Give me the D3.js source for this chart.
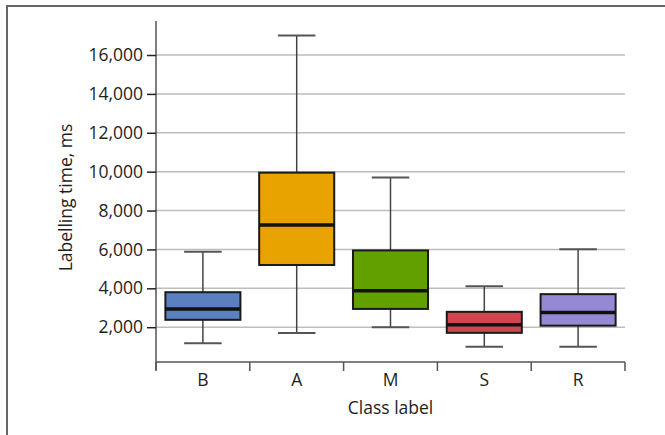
<!DOCTYPE html>
<html><head><meta charset="utf-8">
<script src="https://cdn.jsdelivr.net/npm/d3@7"></script>
<style>body{margin:0;background:#fff}svg{display:block}text{font-family:"Open Sans",sans-serif;fill:#1e1e1e}</style>
</head><body><svg id="c" width="665" height="435"></svg>
<script>
const categories = ["B","A","M","S","R"];
const whiskerLow  = [1180, 1700, 2000, 1000, 1000];
const q1          = [2380, 5200, 2940, 1710, 2080];
const medians     = [2940, 7260, 3870, 2120, 2750];
const q3          = [3800, 9950, 5950, 2790, 3700];
const whiskerHigh = [5880, 17000, 9700, 4100, 6010];
const colors      = ["#5a80c0","#e8a300","#62a000","#d0464f","#9589d6"];
const yTicks      = [2000,4000,6000,8000,10000,12000,14000,16000];

const svg = d3.select("#c");
svg.append("rect").attr("x",7).attr("y",6).attr("width",700).attr("height",500)
  .attr("fill","none").attr("stroke","#666").attr("stroke-width",2);

const L=156, R=625, T=21, B=362;
const FS = 17.5;
const x = d3.scaleBand().domain(categories).range([L,R]).padding(0);
const y = d3.scaleLinear().domain([210, 17750]).range([B,T]);

// grid
svg.append("g").selectAll("line").data(yTicks).join("line")
  .attr("x1",L).attr("x2",R).attr("y1",d=>y(d)).attr("y2",d=>y(d))
  .attr("stroke","#bdbdbd").attr("stroke-width",1.5);

// y axis
const ya = svg.append("g").attr("transform",`translate(${L},0)`)
  .call(d3.axisLeft(y).tickValues(yTicks).tickFormat(d3.format(",")).tickSize(9).tickPadding(4));
ya.select(".domain").attr("d",`M0,${T}V${B+8}`).attr("stroke","#555").attr("stroke-width",1.5);
ya.selectAll(".tick line").attr("stroke","#222").attr("stroke-width",1.5);
ya.selectAll("text").attr("font-size",FS).attr("fill","#1e1e1e");

// x axis
const xa = svg.append("g").attr("transform",`translate(0,${B})`)
  .call(d3.axisBottom(x).tickSize(0).tickPadding(12));
xa.select(".domain").attr("d",`M${L},0H${R}`).attr("stroke","#555").attr("stroke-width",1.5);
xa.selectAll("text").attr("font-size",FS).attr("fill","#1e1e1e");
svg.append("g").selectAll("line").data(categories.map(c=>x(c)).concat([R])).join("line")
  .attr("x1",d=>d).attr("x2",d=>d).attr("y1",B).attr("y2",B+9)
  .attr("stroke","#555").attr("stroke-width",1.5);

// boxes
const bw = x.bandwidth();
const g = svg.append("g").selectAll("g").data(categories).join("g")
  .attr("transform",c=>`translate(${x(c)+bw/2},0)`);
g.append("line").attr("y1",(c,i)=>y(whiskerLow[i])).attr("y2",(c,i)=>y(whiskerHigh[i]))
  .attr("stroke","#444").attr("stroke-width",1.5);
g.append("line").attr("x1",-bw*0.2).attr("x2",bw*0.2).attr("y1",(c,i)=>y(whiskerLow[i])).attr("y2",(c,i)=>y(whiskerLow[i]))
  .attr("stroke","#555").attr("stroke-width",2);
g.append("line").attr("x1",-bw*0.2).attr("x2",bw*0.2).attr("y1",(c,i)=>y(whiskerHigh[i])).attr("y2",(c,i)=>y(whiskerHigh[i]))
  .attr("stroke","#555").attr("stroke-width",2);
g.append("rect").attr("x",-bw*0.4).attr("width",bw*0.8)
  .attr("y",(c,i)=>y(q3[i])).attr("height",(c,i)=>y(q1[i])-y(q3[i]))
  .attr("fill",(c,i)=>colors[i]).attr("stroke","#1a1a1a").attr("stroke-width",2);
g.append("line").attr("x1",-bw*0.4).attr("x2",bw*0.4).attr("y1",(c,i)=>y(medians[i])).attr("y2",(c,i)=>y(medians[i]))
  .attr("stroke","#111").attr("stroke-width",3.5);

// labels
svg.append("text").attr("x",(L+R)/2).attr("y",414).attr("text-anchor","middle").attr("font-size",FS).text("Class label");
svg.append("text").attr("transform",`translate(72,${(T+B)/2+6}) rotate(-90)`).attr("text-anchor","middle").attr("font-size",FS).text("Labelling time, ms");
</script></body></html>
